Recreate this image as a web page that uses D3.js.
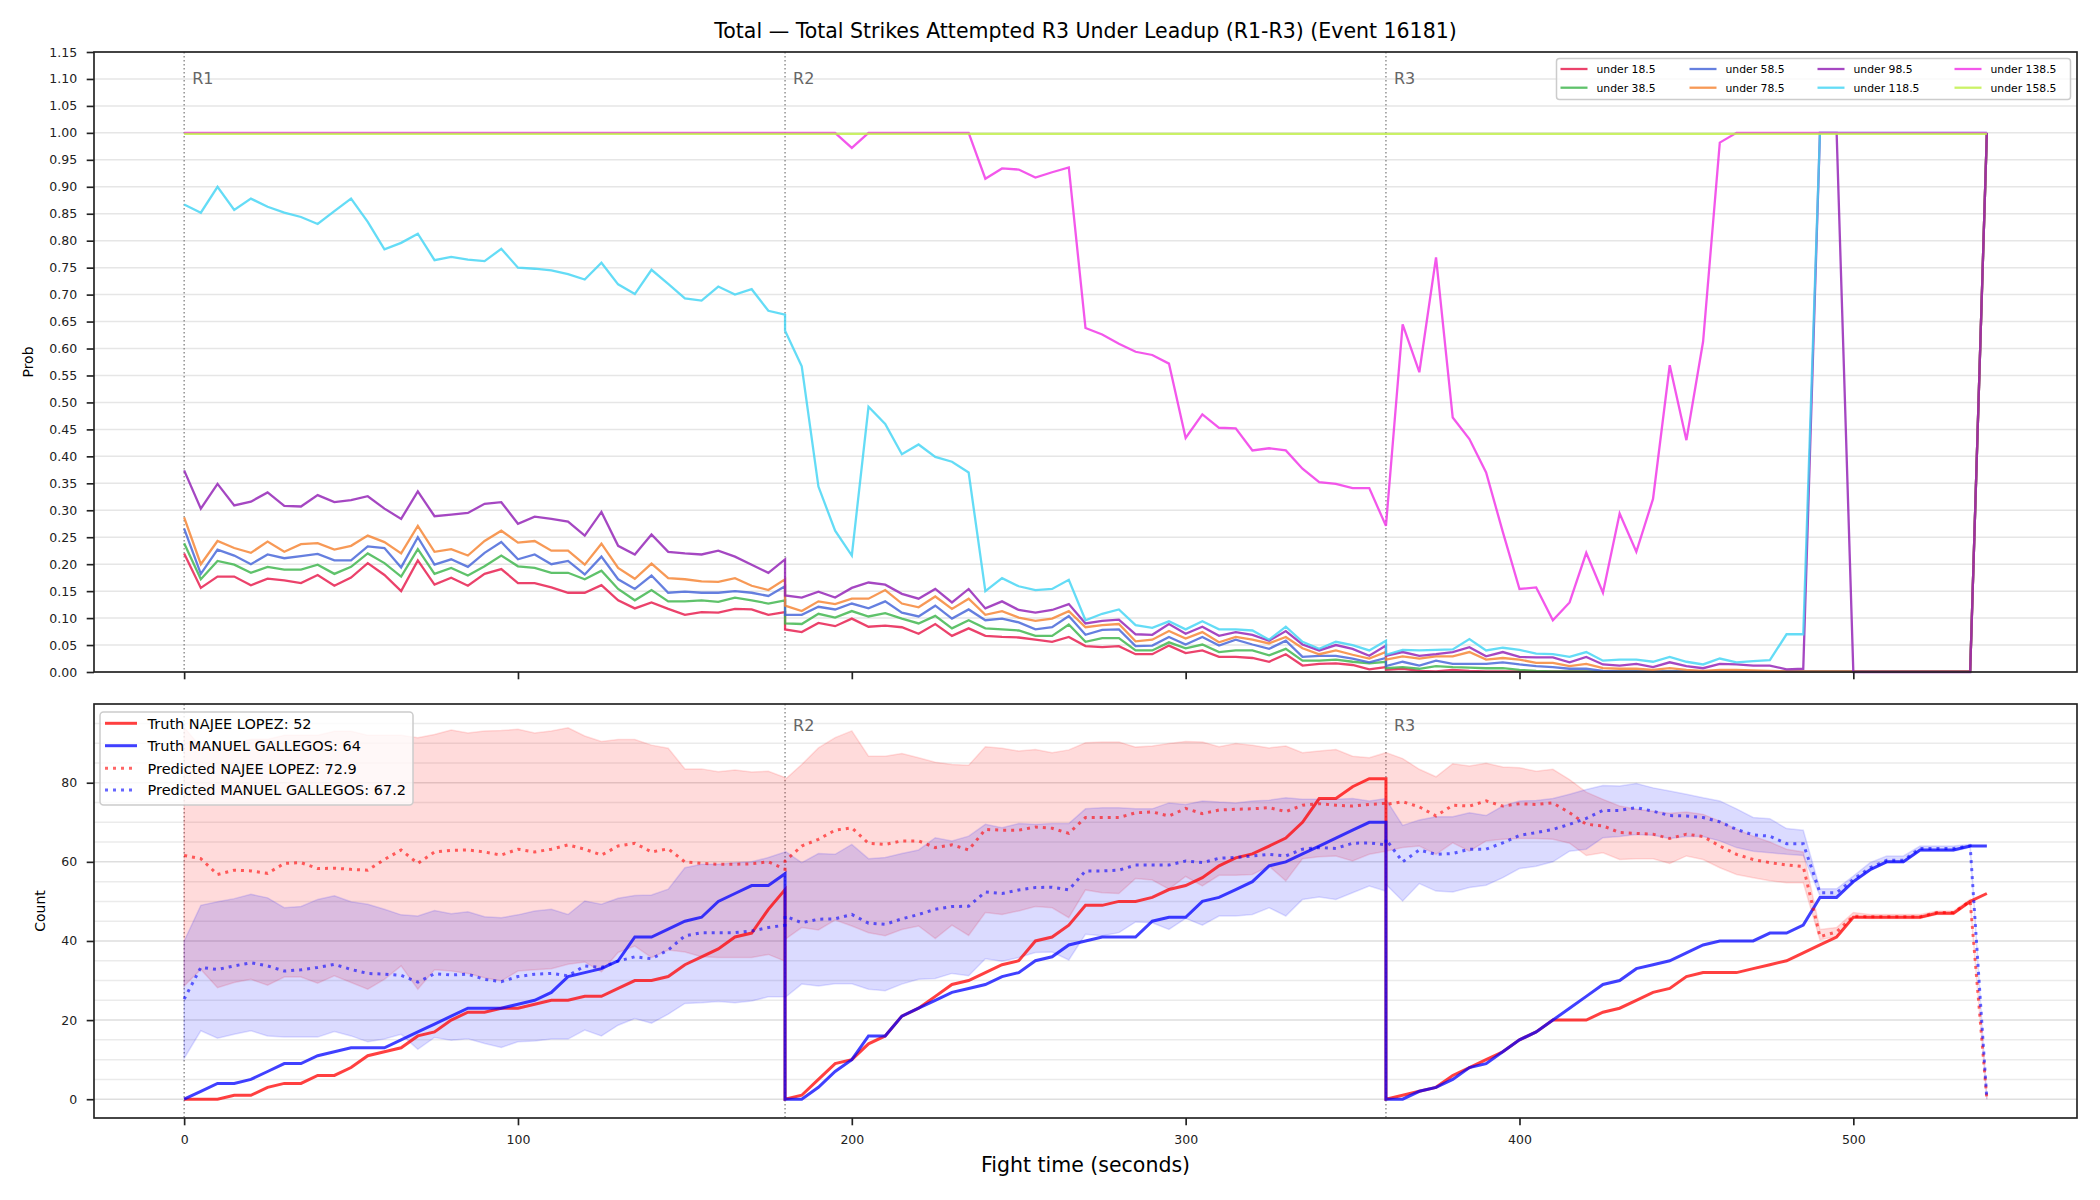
<!DOCTYPE html>
<html><head><meta charset="utf-8">
<script src="https://cdn.jsdelivr.net/npm/d3@7"></script>
<style>body{margin:0;background:#fff} svg{display:block} text{font-family:"DejaVu Sans",sans-serif}</style>
</head><body><svg id="c" width="2100" height="1200"></svg>
<script>
// ---------------- DATA ----------------
const chartTitle = "Total \u2014 Total Strikes Attempted R3 Under Leadup (R1-R3) (Event 16181)";
const roundTimes = [
 [0,5,10,15,20,25,30,35,40,45,50,55,60,65,70,75,80,85,90,95,100,105,110,115,120,125,130,135,140,145,150,155,160,165,170,175,180],
 [180,185,190,195,200,205,210,215,220,225,230,235,240,245,250,255,260,265,270,275,280,285,290,295,300,305,310,315,320,325,330,335,340,345,350,355,360],
 [360,365,370,375,380,385,390,395,400,405,410,415,420,425,430,435,440,445,450,455,460,465,470,475,480,485,490,495,500,505,510,515,520,525,530,535,540]
];
const roundStarts = [0,180,360];
const roundNames = ["R1","R2","R3"];
const probTicks = [0,0.05,0.10,0.15,0.20,0.25,0.30,0.35,0.40,0.45,0.50,0.55,0.60,0.65,0.70,0.75,0.80,0.85,0.90,0.95,1.00,1.05,1.10,1.15];
const countTicks = [0,20,40,60,80];
const countMinor = [0,5,10,15,20,25,30,35,40,45,50,55,60,65,70,75,80,85,90,95];
const timeTicks = [0,100,200,300,400,500];

const lineNames = ["under 18.5","under 38.5","under 58.5","under 78.5","under 98.5","under 118.5","under 138.5","under 158.5"];
const lineColors = ["#e6194B","#3cb44b","#4363d8","#f58231","#911eb4","#42d4f4","#f032e6","#bfef45"];

const under18 = [
 [0.220,0.156,0.177,0.177,0.161,0.173,0.170,0.165,0.180,0.160,0.175,0.202,0.180,0.150,0.207,0.162,0.175,0.160,0.182,0.191,0.165,0.165,0.157,0.147,0.147,0.161,0.133,0.118,0.129,0.117,0.106,0.111,0.110,0.117,0.116,0.106,0.111],
 [0.079,0.074,0.091,0.085,0.099,0.084,0.086,0.083,0.071,0.089,0.067,0.081,0.067,0.065,0.064,0.060,0.056,0.065,0.048,0.046,0.048,0.033,0.033,0.049,0.035,0.040,0.028,0.028,0.026,0.019,0.033,0.012,0.015,0.016,0.013,0.005,0.009],
 [0.004,0.006,0.002,0.001,0.004, 0.002,0.001,0.001,0.001,0.001, 0.001,0.001,0.001,0.001,0.001, 0.001,0.001,0.001,0.001,0.001, 0.001,0.001,0.001,0.001,0.001, 0.001,0.001,0.001,0.001,0.001, 0.001,0.001,0.001,0.001,0.001, 0.001, 1.0]
];
const under38 = [
 [0.239,0.172,0.206,0.199,0.184,0.195,0.190,0.190,0.199,0.182,0.195,0.220,0.202,0.177,0.228,0.182,0.193,0.179,0.196,0.216,0.196,0.193,0.184,0.184,0.172,0.188,0.154,0.133,0.152,0.131,0.131,0.133,0.130,0.138,0.133,0.127,0.133],
 [0.090,0.089,0.108,0.101,0.113,0.103,0.109,0.099,0.090,0.104,0.081,0.096,0.081,0.079,0.077,0.067,0.067,0.088,0.056,0.063,0.063,0.040,0.040,0.055,0.044,0.051,0.037,0.040,0.040,0.031,0.043,0.021,0.021,0.023,0.019,0.016,0.019],
 [0.007,0.009,0.006,0.011,0.009, 0.008,0.007,0.007,0.004,0.002, 0.001,0.001,0.001,0.001,0.001, 0.001,0.001,0.001,0.001,0.001, 0.001,0.001,0.001,0.001,0.001, 0.001,0.001,0.001,0.001,0.001, 0.001,0.001,0.001,0.001,0.001, 0.001, 1.0]
];
const under58 = [
 [0.266,0.182,0.227,0.216,0.200,0.218,0.211,0.215,0.219,0.207,0.207,0.233,0.230,0.194,0.250,0.199,0.209,0.195,0.221,0.241,0.209,0.218,0.200,0.206,0.181,0.214,0.172,0.154,0.179,0.147,0.149,0.147,0.147,0.150,0.147,0.141,0.159],
 [0.106,0.106,0.121,0.116,0.127,0.118,0.131,0.110,0.103,0.123,0.099,0.116,0.096,0.099,0.092,0.079,0.083,0.104,0.069,0.078,0.079,0.048,0.049,0.065,0.051,0.065,0.049,0.060,0.051,0.043,0.058,0.028,0.030,0.030,0.025,0.018,0.026],
 [0.011,0.019,0.012,0.021,0.015, 0.015,0.015,0.018,0.014,0.011, 0.009,0.006,0.006,0.002,0.001, 0.001,0.001,0.001,0.001,0.001, 0.001,0.001,0.001,0.001,0.001, 0.001,0.001,0.001,0.001,0.001, 0.001,0.001,0.001,0.001,0.001, 0.001, 1.0]
];
const under78 = [
 [0.287,0.200,0.243,0.230,0.221,0.242,0.223,0.237,0.239,0.227,0.234,0.253,0.241,0.220,0.271,0.223,0.228,0.216,0.243,0.262,0.240,0.243,0.225,0.225,0.199,0.238,0.193,0.173,0.201,0.174,0.172,0.168,0.167,0.174,0.160,0.152,0.172],
 [0.123,0.113,0.131,0.126,0.136,0.136,0.152,0.127,0.120,0.140,0.117,0.136,0.106,0.113,0.101,0.095,0.099,0.113,0.083,0.087,0.089,0.057,0.060,0.076,0.062,0.074,0.055,0.065,0.060,0.053,0.065,0.044,0.033,0.040,0.032,0.025,0.037],
 [0.023,0.029,0.025,0.029,0.029, 0.037,0.023,0.026,0.023,0.017, 0.017,0.011,0.015,0.007,0.006, 0.006,0.004,0.007,0.004,0.002, 0.004,0.004,0.003,0.002,0.001, 0.001,0.001,0.001,0.001,0.001, 0.001,0.001,0.001,0.001,0.001, 0.001, 1.0]
];
const under98 = [
 [0.374,0.303,0.349,0.309,0.316,0.333,0.308,0.307,0.328,0.315,0.319,0.326,0.303,0.284,0.335,0.289,0.292,0.295,0.312,0.315,0.275,0.288,0.284,0.279,0.253,0.297,0.234,0.218,0.255,0.223,0.220,0.218,0.225,0.214,0.199,0.184,0.209],
 [0.142,0.138,0.149,0.138,0.156,0.166,0.162,0.145,0.136,0.154,0.129,0.154,0.118,0.131,0.115,0.110,0.115,0.126,0.090,0.095,0.097,0.070,0.069,0.089,0.071,0.084,0.067,0.074,0.069,0.058,0.076,0.051,0.040,0.050,0.043,0.030,0.049],
 [0.030,0.037,0.030,0.033,0.037, 0.046,0.029,0.037,0.028,0.027, 0.027,0.018,0.028,0.014,0.012, 0.015,0.009,0.018,0.011,0.007, 0.015,0.014,0.012,0.012,0.005, 0.006,1.0,1.0,0,0, 0,0,0,0,0, 0, 1.0]
];
const under118 = [
 [0.867,0.852,0.900,0.857,0.878,0.863,0.852,0.844,0.831,0.855,0.878,0.835,0.784,0.796,0.813,0.764,0.770,0.765,0.762,0.785,0.750,0.748,0.745,0.738,0.728,0.759,0.719,0.701,0.746,0.720,0.693,0.689,0.715,0.700,0.710,0.670,0.663],
 [0.633,0.567,0.344,0.262,0.216,0.492,0.460,0.404,0.422,0.399,0.390,0.370,0.150,0.174,0.159,0.152,0.154,0.171,0.096,0.108,0.116,0.087,0.082,0.094,0.079,0.094,0.079,0.079,0.077,0.060,0.084,0.056,0.043,0.056,0.050,0.040,0.058],
 [0.032,0.041,0.040,0.041,0.042, 0.061,0.040,0.045,0.041,0.034, 0.033,0.028,0.037,0.021,0.023, 0.023,0.019,0.028,0.019,0.014, 0.025,0.018,0.020,0.022,0.070, 0.070,1.0,1.0,1.0,1.0, 1.0,1.0,1.0,1.0,1.0, 1.0, 1.0]
];
const under138 = [
 [1,1,1,1,1,1,1,1,1,1,1,1,1,1,1,1,1,1,1,1,1,1,1,1,1,1,1,1,1,1,1,1,1,1,1,1,1],
 [1,1,1,1,0.972,1,1,1,1,1,1,1,0.915,0.934,0.932,0.917,0.927,0.936,0.638,0.626,0.609,0.594,0.588,0.572,0.434,0.478,0.453,0.452,0.411,0.415,0.411,0.377,0.352,0.349,0.341,0.341,0.271],
 [0.271,0.645,0.556,0.769,0.472, 0.432,0.370,0.260,0.154,0.157, 0.096,0.129,0.221,0.147,0.294, 0.223,0.321,0.569,0.430,0.613, 0.982,1,1,1,1, 1,1,1,1,1, 1,1,1,1,1, 1, 1]
];
const under158 = [
 [0.998,0.998,0.998,0.998,0.998,0.998,0.998,0.998,0.998,0.998,0.998,0.998,0.998,0.998,0.998,0.998,0.998,0.998,0.998,0.998,0.998,0.998,0.998,0.998,0.998,0.998,0.998,0.998,0.998,0.998,0.998,0.998,0.998,0.998,0.998,0.998,0.998],
 [0.998,0.998,0.998,0.998,0.998,0.998,0.998,0.998,0.998,0.998,0.998,0.998,0.998,0.998,0.998,0.998,0.998,0.998,0.998,0.998,0.998,0.998,0.998,0.998,0.998,0.998,0.998,0.998,0.998,0.998,0.998,0.998,0.998,0.998,0.998,0.998,0.998],
 [0.998,0.998,0.998,0.998,0.998,0.998,0.998,0.998,0.998,0.998,0.998,0.998,0.998,0.998,0.998,0.998,0.998,0.998,0.998,0.998,0.998,0.998,0.998,0.998,0.998,0.998,0.998,0.998,0.998,0.998,0.998,0.998,0.998,0.998,0.998,0.998,0.998]
];

const fighterNames = ["NAJEE LOPEZ","MANUEL GALLEGOS"];
const truthFinal = [52,64];
const predFinal = [72.9,67.2];
const truthNajee = [
 [0,0,0,1,1,3,4,4,6,6,8,11,12,13,16,17,20,22,22,23,23,24,25,25,26,26,28,30,30,31,34,36,38,41,42,48,53],
 [0,1,5,9,10,14,16,21,23,26,29,30,32,34,35,40,41,44,49,49,50,50,51,53,54,56,59,61,62,64,66,70,76,76,79,81,81],
 [0,1,2,3,6,8,10,12,15,17,20,20,20,22,23,25,27,28,31,32,32,32,33,34,35,37,39,41,46,46,46,46,46,47,47,50,52]
];
const truthGallegos = [
 [0,2,4,4,5,7,9,9,11,12,13,13,13,15,17,19,21,23,23,23,24,25,27,31,32,33,35,41,41,43,45,46,50,52,54,54,57],
 [0,0,3,7,10,16,16,21,23,25,27,28,29,31,32,35,36,39,40,41,41,41,45,46,46,50,51,53,55,59,60,62,64,66,68,70,70],
 [0,0,2,3,5,8,9,12,15,17,20,23,26,29,30,33,34,35,37,39,40,40,40,42,42,44,51,51,55,58,60,60,63,63,63,64,64]
];
const predNajee = [
 [61.6,60.8,56.8,57.9,57.7,57.1,59.6,59.8,58.3,58.4,58.1,57.9,60.6,63.0,59.6,62.5,62.9,63.0,62.5,61.7,63.2,62.5,63.2,64.3,63.2,61.7,64.0,64.7,62.5,63.3,60.0,59.6,59.4,59.4,59.5,60.0,58.1],
 [60.2,64.0,65.7,68.0,68.6,64.7,64.4,65.3,65.3,63.6,64.3,63.0,68.2,68.0,68.0,68.8,68.5,67.2,71.2,71.2,71.2,72.4,72.6,71.6,73.5,72.2,73.1,73.3,73.4,73.7,72.7,74.3,74.7,74.3,74.1,74.5,74.8],
 [74.5,75.2,73.9,71.6,74.3,74.1,75.4,74.1,74.7,74.5,74.9,72.4,69.5,69.1,67.4,67.2,67.0,65.9,67.0,66.4,64.0,61.9,60.6,59.8,59.2,58.8,41.1,42.3,46.3,46.1,46.1,46.1,46.1,47.2,47.2,50.1,0]
];
const predGallegos = [
 [25.3,33.3,32.8,33.7,34.5,33.7,32.4,32.7,33.3,34.1,32.8,31.8,31.6,31.3,29.6,31.7,31.4,31.6,30.3,29.7,31.0,31.6,31.8,31.2,33.7,33.3,34.9,36.0,35.5,37.7,41.3,42.1,42.1,42.1,42.5,43.4,44.0],
 [46.3,44.6,45.5,45.6,46.7,44.5,44.2,45.6,46.7,48.0,48.7,48.8,52.4,52.0,52.9,53.5,53.6,52.9,57.7,57.7,57.9,59.2,59.2,59.2,60.2,59.8,60.9,61.1,61.5,61.9,61.5,63.2,63.6,63.4,64.7,64.8,64.3],
 [65.7,60.0,63.0,61.9,62.1,63.2,63.2,64.8,66.7,67.4,68.2,69.5,71.0,73.0,73.0,73.7,72.8,71.7,71.6,71.2,70.1,68.2,66.8,66.5,64.6,64.6,52.2,52.2,55.6,58.5,60.4,60.4,63.4,63.4,63.4,64.0,0]
];
const najeeHigh = [
 [94,89,88,90,91,91,92,92,92,93,93,92,92,92,91.4,92.2,93.3,92.6,93.1,93.2,93.5,92.6,93.1,93.9,91.8,90.4,90.9,90.9,89.5,88.7,83.5,83.5,82.8,83.2,82.7,82.9,81.3],
 [80.8,84.6,88.8,91.4,93.1,86.7,86.7,87.4,86.3,85.2,84.6,84.4,89.1,88.7,88.0,88.4,87.6,88.3,90.1,90.3,90.3,89.0,89.3,89.9,90.4,90.3,89.1,89.9,89.5,88.8,89.3,87.6,88.0,88.4,86.7,86.3,87.6],
 [87.6,86.1,83.4,81.5,84.8,84.2,84.9,84.0,83.8,82.9,83.4,80.8,77.6,75.8,74.1,73.3,72.8,72.3,72.6,72.0,70.3,68.2,66.5,65.0,63.2,62.5,42.9,43.4,47.2,46.7,46.7,46.7,46.7,47.6,47.6,50.5,0]
];
const najeeLow = [
 [28.6,32.8,28.2,29.5,30.3,28.8,30.9,30.9,29.3,31.2,29.5,27.8,30.3,33.7,27.8,32.7,32.4,31.8,30.7,29.9,32.4,32.7,33.0,34.1,34.7,32.2,37.1,38.7,35.8,37.7,37.2,36.0,35.8,35.8,35.8,36.6,34.9],
 [40.4,43.4,42.8,45.3,43.8,42.1,41.3,42.9,43.8,40.6,44.0,41.4,47.2,46.7,47.6,48.7,48.4,45.9,52.9,52.2,52.0,55.8,55.4,53.1,56.3,53.9,56.6,56.6,56.8,58.9,55.2,60.8,61.3,61.5,60.2,61.9,62.7],
 [62.7,63.6,64.0,61.9,64.8,62.7,65.3,65.7,65.9,65.9,65.7,64.7,61.6,62.3,60.6,60.8,60.8,59.6,61.5,60.6,58.5,56.8,56.0,55.2,54.7,54.7,40.3,41.1,45.9,45.7,45.7,45.7,45.7,46.7,46.7,49.7,0]
];
const gallegosHigh = [
 [40.0,49.0,49.9,50.7,51.8,50.9,48.4,48.7,50.5,51.4,49.9,49.3,48.0,46.6,46.3,47.7,46.9,47.4,46.1,45.9,46.6,47.6,48.0,46.7,50.1,49.3,50.8,51.5,51.6,53.1,58.5,59.4,59.4,59.8,60.0,61.1,62.5],
 [62.7,59.8,62.1,61.9,64.4,60.8,61.1,62.1,63.0,66.1,65.3,66.5,69.5,68.6,69.7,69.5,69.7,69.7,73.4,73.7,73.7,73.4,73.4,74.9,74.5,75.4,75.1,74.9,75.4,75.6,76.2,75.8,75.8,75.8,76.0,75.4,76.0],
 [75.8,69.2,70.6,71.4,71.4,72.4,71.7,74.1,75.4,75.5,76.0,77.1,78.3,79.3,79.2,79.8,78.7,77.9,77.1,76.2,75.4,73.4,71.2,70.9,68.4,68.0,53.2,53.2,56.4,59.8,61.5,61.5,64.0,64.0,64.0,64.4,0]
];
const gallegosLow = [
 [10.3,17.3,15.4,16.4,17.3,16.0,15.7,15.7,15.7,17.1,16.0,14.5,15.2,16.4,12.6,15.6,14.9,15.3,14.1,13.1,14.5,14.7,15.2,15.2,17.5,16.0,18.7,20.4,19.2,21.5,24.2,24.4,24.7,24.4,24.8,25.9,25.9],
 [25.7,29.1,28.6,29.2,29.2,27.8,27.4,29.1,30.3,30.5,31.8,31.2,35.5,34.9,35.8,37.1,37.2,35.2,41.7,41.3,42.1,44.8,44.6,42.9,45.7,44.0,46.3,46.3,46.7,48.4,46.3,50.5,51.1,50.5,52.2,53.9,52.6],
 [54.3,50.1,54.5,52.6,52.4,53.5,54.1,56.0,58.3,58.9,60.0,62.7,63.2,66.1,66.4,66.9,66.7,65.9,66.4,66.4,65.3,63.6,62.7,62.3,61.9,61.6,51.4,51.4,54.7,57.7,59.8,59.8,62.7,62.7,62.7,63.6,0]
];

// ---------------- DRAW ----------------
const T = roundTimes.flat();
const svg = d3.select('#c');
const L = 94, R = 2077;
const topBox = {t:52, b:672}, botBox = {t:704, b:1118};
const x = d3.scaleLinear().domain([-27,567]).range([L,R]);
const yT = d3.scaleLinear().domain([0,1.15]).range([topBox.b, topBox.t]);
const yB = d3.scaleLinear().domain([-4.75,99.9]).range([botBox.b, botBox.t]);
const AX = '#222', SPW = 1.67;

// title
svg.append('text').attr('x',(L+R)/2).attr('y',38).attr('text-anchor','middle')
  .attr('font-size',20.5).attr('fill','#000').text(chartTitle);

// grids
svg.append('g').selectAll('line').data(probTicks).join('line')
  .attr('x1',L).attr('x2',R).attr('y1',d=>yT(d)).attr('y2',d=>yT(d))
  .attr('stroke','#b0b0b0').attr('stroke-opacity',0.32).attr('stroke-width',1.5);
svg.append('g').selectAll('line').data(countMinor).join('line')
  .attr('x1',L).attr('x2',R).attr('y1',d=>yB(d)).attr('y2',d=>yB(d))
  .attr('stroke','#b0b0b0').attr('stroke-opacity',d=>countTicks.includes(d)?0.42:0.25).attr('stroke-width',1.5);

// round separators (the R1 label of the lower panel sits hidden under its legend in the reference)
function rounds(box, labelOffset, labelIdx){
  const g = svg.append('g');
  g.selectAll('line').data(roundStarts).join('line')
    .attr('x1',d=>x(d)).attr('x2',d=>x(d)).attr('y1',box.t).attr('y2',box.b)
    .attr('stroke','#777').attr('stroke-width',1.2).attr('stroke-dasharray','1.5,2.5');
  g.selectAll('text').data(labelIdx).join('text')
    .attr('x',i=>x(roundStarts[i])+8).attr('y',box.t+labelOffset)
    .attr('font-size',16).attr('fill','#666').text(i=>roundNames[i]);
}
rounds(topBox, 32, [0,1,2]);
rounds(botBox, 27, [1,2]);

// top lines
const topSeries = [under18,under38,under58,under78,under98,under118,under138,under158].map(s=>s.flat());
const lineT = d3.line().x((d,i)=>x(T[i])).y(d=>yT(d));
svg.append('g').selectAll('path').data(topSeries).join('path')
  .attr('d',lineT).attr('fill','none')
  .attr('stroke',(d,i)=>lineColors[i]).attr('stroke-opacity',0.82)
  .attr('stroke-width',2.3).attr('stroke-linejoin','miter');

// bottom bands
const bands = [
  {lo:najeeLow.flat(), hi:najeeHigh.flat(), c:'#ff0000'},
  {lo:gallegosLow.flat(), hi:gallegosHigh.flat(), c:'#0000ff'}
];
const area = b => d3.area().x((d,i)=>x(T[i])).y0((d,i)=>yB(b.lo[i])).y1((d,i)=>yB(b.hi[i]))(b.lo);
svg.append('g').selectAll('path').data(bands).join('path')
  .attr('d',area).attr('fill',d=>d.c).attr('fill-opacity',0.14)
  .attr('stroke',d=>d.c).attr('stroke-opacity',0.12).attr('stroke-width',1.5);

// bottom lines
const lineB = d3.line().x((d,i)=>x(T[i])).y(d=>yB(d));
const botLines = [
  {v:truthNajee.flat(), c:'#ff0000', dash:null, op:0.75, w:3},
  {v:truthGallegos.flat(), c:'#0000ff', dash:null, op:0.75, w:3},
  {v:predNajee.flat(), c:'#ff0000', dash:'3,5', op:0.6, w:3},
  {v:predGallegos.flat(), c:'#0000ff', dash:'3,5', op:0.6, w:3}
];
svg.append('g').selectAll('path').data(botLines).join('path')
  .attr('d',d=>lineB(d.v)).attr('fill','none').attr('stroke',d=>d.c)
  .attr('stroke-opacity',d=>d.op).attr('stroke-width',d=>d.w)
  .attr('stroke-dasharray',d=>d.dash);

// axes
function styleAxis(g, fs){
  g.select('.domain').remove();
  g.selectAll('.tick line').attr('stroke',AX).attr('stroke-width',SPW);
  g.selectAll('.tick text').attr('fill',AX).attr('font-size',fs).attr('font-family','DejaVu Sans');
}
styleAxis(svg.append('g').attr('transform',`translate(${L},0)`)
  .call(d3.axisLeft(yT).tickValues(probTicks).tickFormat(d3.format('.2f')).tickSize(7.3).tickPadding(9.5)),12.5);
styleAxis(svg.append('g').attr('transform',`translate(0,${topBox.b})`)
  .call(d3.axisBottom(x).tickValues(timeTicks).tickFormat('').tickSize(7.3)),12.5);
styleAxis(svg.append('g').attr('transform',`translate(${L},0)`)
  .call(d3.axisLeft(yB).tickValues(countTicks).tickFormat(d3.format('d')).tickSize(7.3).tickPadding(9.5)),12.5);
styleAxis(svg.append('g').attr('transform',`translate(0,${botBox.b})`)
  .call(d3.axisBottom(x).tickValues(timeTicks).tickFormat(d3.format('d')).tickSize(7.3).tickPadding(9.5)),12.5);

// frames
[topBox,botBox].forEach(b=>svg.append('rect').attr('x',L).attr('y',b.t).attr('width',R-L).attr('height',b.b-b.t)
  .attr('fill','none').attr('stroke',AX).attr('stroke-width',SPW));

// axis labels
svg.append('text').attr('transform',`translate(33,${(topBox.t+topBox.b)/2}) rotate(-90)`)
  .attr('text-anchor','middle').attr('font-size',14).attr('fill','#000').text('Prob');
svg.append('text').attr('transform',`translate(45,${(botBox.t+botBox.b)/2}) rotate(-90)`)
  .attr('text-anchor','middle').attr('font-size',14).attr('fill','#000').text('Count');
svg.append('text').attr('x',(L+R)/2).attr('y',1172).attr('text-anchor','middle')
  .attr('font-size',20.5).attr('fill','#000').text('Fight time (seconds)');

// top legend
const lg = svg.append('g');
lg.append('rect').attr('x',1556.5).attr('y',58.5).attr('width',514).attr('height',41).attr('rx',3)
  .attr('fill','#fff').attr('fill-opacity',0.8).attr('stroke','#cccccc').attr('stroke-width',1.5);
const colX = [1560.5,1689.5,1817.5,1954.5], rowY = [69,87.7];
lineNames.forEach((n,i)=>{
  const cx = colX[Math.floor(i/2)], cy = rowY[i%2];
  lg.append('line').attr('x1',cx).attr('x2',cx+27).attr('y1',cy).attr('y2',cy)
    .attr('stroke',lineColors[i]).attr('stroke-opacity',0.82).attr('stroke-width',2.3);
  lg.append('text').attr('x',cx+36).attr('y',cy+3.9).attr('font-size',10.8).attr('fill','#000').text(n);
});

// bottom legend
const bl = svg.append('g');
bl.append('rect').attr('x',100).attr('y',712).attr('width',313).attr('height',93).attr('rx',3.5)
  .attr('fill','#fff').attr('fill-opacity',0.8).attr('stroke','#cccccc').attr('stroke-width',1.5);
const legItems = [
  {t:`Truth ${fighterNames[0]}: ${truthFinal[0]}`, c:'#ff0000', dash:null, op:0.75},
  {t:`Truth ${fighterNames[1]}: ${truthFinal[1]}`, c:'#0000ff', dash:null, op:0.75},
  {t:`Predicted ${fighterNames[0]}: ${predFinal[0]}`, c:'#ff0000', dash:'3,5', op:0.6},
  {t:`Predicted ${fighterNames[1]}: ${predFinal[1]}`, c:'#0000ff', dash:'3,5', op:0.6}
];
const bRows = [723.3,745.7,768.3,790];
legItems.forEach((d,i)=>{
  bl.append('line').attr('x1',105).attr('x2',137).attr('y1',bRows[i]).attr('y2',bRows[i])
    .attr('stroke',d.c).attr('stroke-opacity',d.op).attr('stroke-width',3).attr('stroke-dasharray',d.dash);
  bl.append('text').attr('x',147.5).attr('y',bRows[i]+5.2).attr('font-size',14.5).attr('fill','#000').text(d.t);
});
</script>
</body></html>
